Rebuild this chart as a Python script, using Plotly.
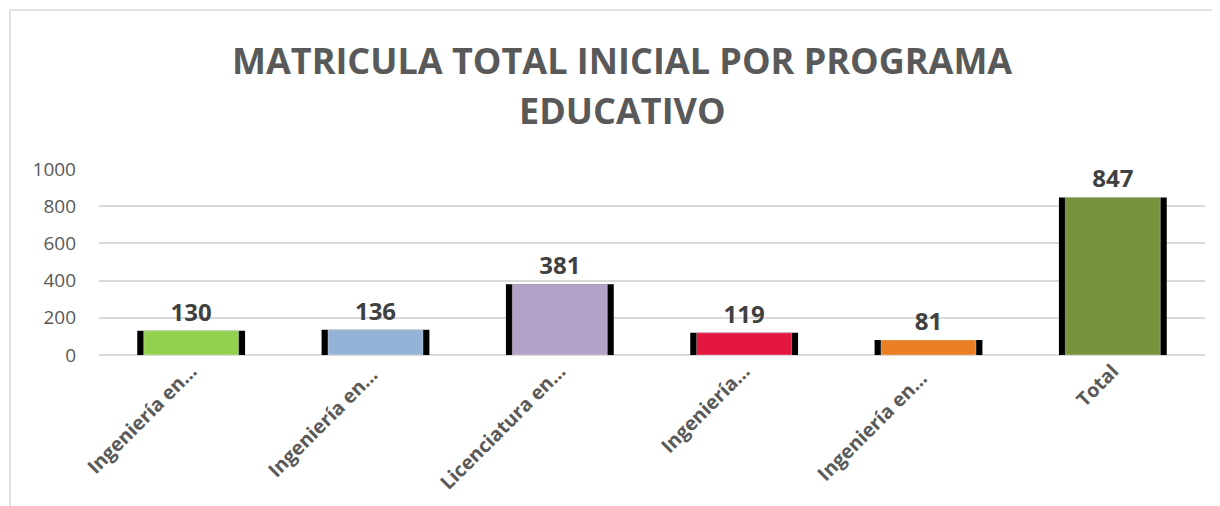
import plotly.graph_objects as go

categories = ["Ingeniería en…", "Ingeniería en… ", "Licenciatura en…", "Ingeniería…", "Ingeniería en…  ", "Total"]
values = [130, 136, 381, 119, 81, 847]
colors = ["#92D050", "#95B3D7", "#B3A2C7", "#E3173E", "#E97E22", "#77933C"]
yticks = [0, 200, 400, 600, 800, 1000]
title_lines = ["MATRICULA TOTAL INICIAL POR PROGRAMA", "EDUCATIVO"]

OFF = 8  # browser body margin
W, H = 1220 - OFF, 506 - OFF
L, R, T, B = 99 - OFF, 15, 169 - OFF, 506 - 355
pw = W - L - R
ph = H - T - B

fig = go.Figure()
fig.add_trace(go.Bar(x=categories, y=values, width=0.585, marker=dict(color="#000000", line=dict(width=0)),
                     hoverinfo="skip", showlegend=False))
fig.add_trace(go.Bar(x=categories, y=values, width=0.515,
                     marker=dict(color=colors, line=dict(color="rgba(255,255,255,0.35)", width=1)),
                     text=values, textposition="outside", cliponaxis=False,
                     textfont=dict(family="Open Sans", size=24, color="#404040", weight="bold"),
                     showlegend=False))

def px(x):
    return (x - OFF - L) / pw

def py(y):
    return (H - B - (y - OFF)) / ph

fig.add_shape(type="rect", xref="paper", yref="paper", x0=px(10), x1=px(1240), y0=py(530), y1=py(10),
              line=dict(color="#D9D9D9", width=1.5), fillcolor="rgba(0,0,0,0)", layer="below")

for line, yc in zip(title_lines, [60, 110]):
    fig.add_annotation(text=line, xref="paper", yref="paper", x=px(622), y=py(yc),
                       xanchor="center", yanchor="middle", showarrow=False,
                       font=dict(family="Open Sans", size=36, color="#595959", weight="bold"))

fig.update_layout(
    width=W, height=H,
    margin=dict(l=L, r=R, t=T, b=B),
    paper_bgcolor="white", plot_bgcolor="white",
    barmode="overlay",
    xaxis=dict(type="category", tickangle=-45, showgrid=False, showline=False, ticks="",
               ticklabelstandoff=0,
               tickfont=dict(family="Open Sans", size=19.5, color="#595959", weight="bold")),
    yaxis=dict(range=[0, 1000], tickvals=yticks, showgrid=True, gridcolor="#D9D9D9", gridwidth=1.5,
               zeroline=True, zerolinecolor="#D9D9D9", zerolinewidth=1.5, showline=False, ticks="",
               ticklabelstandoff=22,
               tickfont=dict(family="Open Sans", size=19, color="#595959")),
)

fig.write_html("out.html")
